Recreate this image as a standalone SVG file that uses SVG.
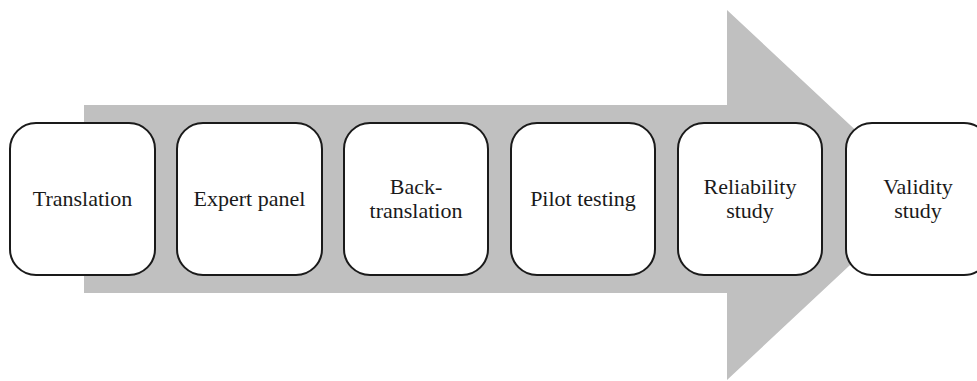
<svg xmlns="http://www.w3.org/2000/svg" width="977" height="381" viewBox="0 0 977 381">
<style>
.box{fill:#fff;stroke:#1a1a1a;stroke-width:2}
.t{font-family:'Liberation Serif','Times New Roman',serif;font-size:22px;fill:#1a1a1a;text-anchor:middle}
</style>
<rect width="977" height="381" fill="#fff"/>
<g id="connectors">
<polygon points="84,105 727,105 727,10 925,195 727,380 727,293 84,293" fill="#c0c0c0"/>
</g>
<g id="n1"><rect class="box" x="10" y="123" width="145" height="152" rx="26"/><text class="t" x="82.5" y="206">Translation</text></g>
<g id="n2"><rect class="box" x="177" y="123" width="145" height="152" rx="26"/><text class="t" x="249.5" y="206">Expert panel</text></g>
<g id="n3"><rect class="box" x="344" y="123" width="144" height="152" rx="26"/><text class="t" x="416" y="194">Back-</text><text class="t" x="416" y="218">translation</text></g>
<g id="n4"><rect class="box" x="511" y="123" width="144" height="152" rx="26"/><text class="t" x="583" y="206">Pilot testing</text></g>
<g id="n5"><rect class="box" x="678" y="123" width="144" height="152" rx="26"/><text class="t" x="750" y="194">Reliability</text><text class="t" x="750" y="218">study</text></g>
<g id="n6"><rect class="box" x="846" y="123" width="144" height="152" rx="26"/><text class="t" x="918" y="194">Validity</text><text class="t" x="918" y="218">study</text></g>
</svg>
